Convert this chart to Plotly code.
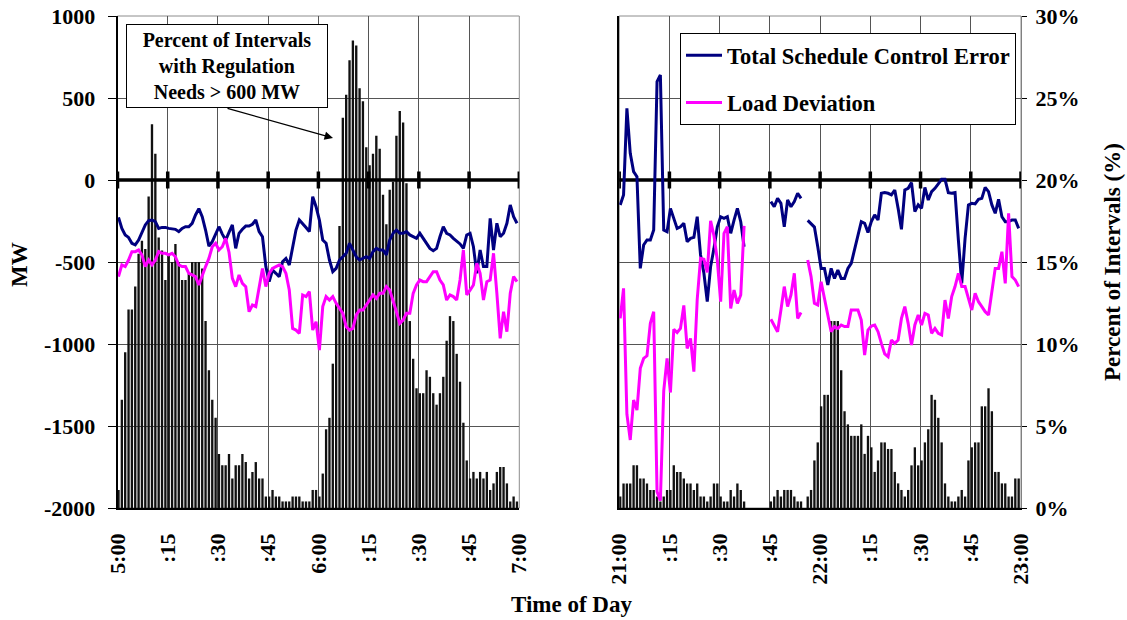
import numpy as np
import plotly.graph_objects as go

# ---- data: one value per minute, 5:00-7:00 and 21:00-23:00 ----
# percent of intervals with regulation needs > 600 MW
morning_pct = [1.1, 6.6, 9.5, 12.1, 12.1, 13.5, 15.5, 16.3, 15.8, 19.0,
               23.4, 21.6, 16.5, 15.7, 13.9, 15.4, 15.0, 16.1, 15.0, 13.9,
               13.9, 14.3, 15.0, 15.0, 15.0, 14.6, 11.4, 8.4, 6.6, 5.5,
               3.3, 2.6, 2.6, 3.3, 1.8, 2.6, 2.6, 3.3, 2.8, 1.8,
               2.2, 2.8, 1.8, 1.8, 0.7, 0.7, 1.1, 0.7, 0.7, 0.4,
               0.4, 0.4, 0.7, 0.7, 0.7, 0.4, 0.4, 0.4, 1.1, 1.1,
               0.7, 2.1, 4.8, 5.5, 8.8, 12.5, 17.2, 23.8, 25.2, 27.3,
               28.5, 28.2, 25.6, 24.8, 22.0, 20.9, 21.6, 22.7, 21.9, 19.1,
               17.3, 19.4, 19.9, 22.7, 24.2, 23.5, 19.8, 11.4, 9.1, 7.3,
               7.0, 7.0, 8.4, 8.0, 7.0, 6.3, 7.0, 8.0, 10.2, 11.7,
               11.4, 9.4, 7.7, 5.2, 2.9, 1.8, 2.2, 1.8, 2.2, 1.8,
               2.2, 1.1, 1.5, 2.2, 2.5, 2.5, 1.5, 0.4, 0.7, 0.4]

# total schedule control error, MW
morning_sce = [-228, -295, -335, -350, -386, -396, -366, -315, -274, -248,
               -244, -254, -295, -289, -289, -295, -299, -301, -315, -295,
               -285, -285, -264, -213, -175, -224, -305, -403, -376, -325,
               -285, -330, -366, -320, -274, -417, -325, -300, -281, -281,
               -270, -244, -315, -346, -528, -620, -549, -569, -590, -498,
               -478, -518, -407, -305, -244, -264, -290, -315, -102, -163,
               -244, -366, -386, -488, -559, -539, -488, -468, -447, -386,
               -427, -468, -488, -478, -468, -478, -437, -417, -427, -427,
               -457, -366, -325, -305, -325, -325, -315, -335, -346, -356,
               -325, -356, -386, -417, -431, -417, -346, -285, -325, -335,
               -356, -376, -390, -417, -335, -325, -407, -569, -427, -528,
               -528, -234, -427, -264, -346, -325, -264, -152, -224, -264]

# load deviation, MW
morning_ld = [-589, -518, -528, -488, -437, -437, -427, -457, -528, -488,
              -518, -488, -437, -447, -447, -457, -447, -468, -518, -528,
              -528, -569, -579, -589, -640, -579, -528, -478, -407, -386,
              -427, -407, -356, -440, -600, -650, -579, -630, -650, -803,
              -762, -772, -650, -539, -650, -569, -539, -528, -518, -528,
              -569, -671, -905, -915, -935, -701, -711, -681, -915, -864,
              -1037, -772, -711, -732, -711, -752, -783, -813, -894, -915,
              -905, -823, -793, -793, -762, -732, -701, -722, -691, -691,
              -650, -671, -732, -803, -874, -854, -813, -813, -691, -640,
              -610, -620, -620, -589, -559, -559, -610, -640, -732, -701,
              -711, -732, -610, -427, -701, -671, -640, -508, -569, -732,
              -620, -610, -447, -691, -966, -803, -925, -691, -589, -620]

evening_pct = [0.7, 1.5, 1.5, 1.5, 2.6, 2.6, 1.8, 1.8, 1.5, 1.1,
               1.1, 0.7, 0.4, 0.7, 1.1, 1.1, 2.6, 2.2, 2.2, 1.8,
               1.5, 1.5, 1.1, 1.5, 0.7, 0.7, 0.4, 0.7, 1.5, 1.5,
               0.7, 0.4, 0.4, 1.1, 0.7, 1.5, 1.1, 0.4, None, None,
               None, None, None, None, None, 0.4, 0.7, 1.1, 0.7, 1.1,
               1.1, 1.1, 0.7, 0.4, 0.4, None, 0.7, 1.1, 2.9, 4.0,
               6.2, 6.9, 6.9, 11.4, 11.4, 11.4, 8.4, 5.9, 5.1, 4.4,
               4.4, 4.4, 5.1, 3.3, 4.4, 3.7, 2.2, 2.9, 4.0, 4.0,
               3.6, 3.6, 2.2, 1.5, 1.1, 0.7, 1.1, 2.6, 3.7, 2.6,
               2.9, 4.0, 4.8, 6.9, 6.6, 5.5, 4.0, 1.5, 0.7, 0.4,
               0.4, 0.7, 1.1, 0.7, 2.9, 3.7, 4.0, 4.0, 6.2, 6.2,
               7.3, 5.9, 2.2, 2.2, 1.5, 1.5, 0.7, 0.7, 1.8, 1.8]

evening_sce = [-152, -91, 437, 163, 51, 20, -539, -396, -366, -366,
               -305, 600, 640, -305, -315, -173, -234, -295, -285, -264,
               -376, -356, -350, -224, -457, -569, -742, -528, -417, -285,
               -224, -234, -224, -325, -244, -173, -254, -407, None, None,
               None, None, None, None, None, -132, -163, -112, -142, -285,
               -122, -163, -132, -81, -112, None, -246, -266, -287, -407,
               -539, -539, -640, -539, -600, -549, -600, -600, -539, -508,
               -427, -335, -254, -264, -320, -254, -213, -244, -81, -77,
               -81, -91, -61, -173, -301, -61, -51, -16, -193, -152,
               -173, -45, -122, -71, -51, -24, 4, 4, -77, -81,
               -77, -366, -630, -356, -152, -142, -146, -118, -112, -45,
               -71, -152, -203, -118, -224, -254, -254, -244, -244, -295]

evening_ld = [-844, -661, -1428, -1585, -1342, -1403, -1148, -1088, -1072, -874,
              -803, -1900, -1956, -1286, -1088, -1296, -910, -930, -905, -765,
              -1027, -966, -1169, -727, -478, -483, -564, -249, -340, -488,
              -742, -325, -285, -783, -671, -752, -701, -280, None, None,
              None, None, None, None, None, -849, -884, -925, -793, -650,
              -772, -701, -569, -844, -808, None, -488, -589, -752, -762,
              -620, -722, -833, -925, -894, -905, -884, -894, -894, -793,
              -793, -793, -854, -1067, -915, -890, -884, -925, -996, -1060,
              -1077, -976, -996, -976, -844, -772, -874, -1006, -884, -823,
              -884, -813, -823, -935, -905, -935, -945, -732, -844, -711,
              -650, -569, -650, -650, -722, -793, -691, -742, -772, -803,
              -823, -671, -539, -539, -437, -630, -203, -589, -610, -650]

morning_ticks = ["5:00", ":15", ":30", ":45", "6:00", ":15", ":30", ":45", "7:00"]
evening_ticks = ["21:00", ":15", ":30", ":45", "22:00", ":15", ":30", ":45", "23:00"]
mw_ticks = [1000, 500, 0, -500, -1000, -1500, -2000]
pct_ticks = [0, 5, 10, 15, 20, 25, 30]

# ---- styling ----
FONT = "Liberation Serif, Times New Roman, serif"
NAVY = "#000080"
MAGENTA = "#FF00FF"
BAR = "#111111"
GRID = "#555555"

minute = np.arange(120) + 0.3          # centre of each one-minute bin
tick_pos = list(range(0, 121, 15))

W, H = 1127, 620
y_dom = [1 - 508 / H, 1 - 16 / H]
left_dom = [117.5 / W, 519.3 / W]
right_dom = [619.2 / W, 1021.0 / W]

fig = go.Figure()

panels = [
    dict(x="x", ypct="y", ymw="y3", pct=morning_pct, sce=morning_sce, ld=morning_ld, legend=True),
    dict(x="x2", ypct="y2", ymw="y4", pct=evening_pct, sce=evening_sce, ld=evening_ld, legend=False),
]

for p in panels:
    fig.add_trace(go.Bar(x=minute, y=p["pct"], xaxis=p["x"], yaxis=p["ypct"],
                         marker=dict(color=BAR, line=dict(width=0)),
                         showlegend=False, hoverinfo="skip"))

for p in panels:
    # horizontal axis drawn through MW = 0, with its tick marks
    fig.add_trace(go.Scatter(x=[0, 120], y=[0, 0], xaxis=p["x"], yaxis=p["ymw"],
                             mode="lines", line=dict(color="black", width=3.5),
                             showlegend=False, hoverinfo="skip"))
    fig.add_trace(go.Scatter(x=tick_pos, y=[0] * len(tick_pos), xaxis=p["x"], yaxis=p["ymw"],
                             mode="markers",
                             marker=dict(symbol="line-ns", size=12,
                                         line=dict(color="black", width=3.5)),
                             showlegend=False, hoverinfo="skip"))
    fig.add_trace(go.Scatter(x=minute, y=p["sce"], xaxis=p["x"], yaxis=p["ymw"],
                             mode="lines", line=dict(color=NAVY, width=3),
                             name="Total Schedule Control Error", legendgroup="sce",
                             showlegend=p["legend"], connectgaps=False))
    fig.add_trace(go.Scatter(x=minute, y=p["ld"], xaxis=p["x"], yaxis=p["ymw"],
                             mode="lines", line=dict(color=MAGENTA, width=3),
                             name="Load Deviation", legendgroup="ld",
                             showlegend=p["legend"], connectgaps=False))

tickfont = dict(family=FONT, size=22, color="black", weight="bold")

xcommon = dict(range=[0, 120], tickvals=tick_pos, tickangle=-90, tickfont=tickfont,
               showgrid=True, gridcolor=GRID, gridwidth=1, zeroline=False,
               showline=True, linecolor="black", linewidth=1.5, ticks="",
               ticklabelstandoff=15, automargin=False, fixedrange=True)

fig.update_layout(
    width=W, height=H,
    margin=dict(l=0, r=0, t=0, b=0),
    paper_bgcolor="white", plot_bgcolor="white",
    bargap=0.3,
    showlegend=True,
    legend=dict(x=680 / W, y=1 - 33 / H, xanchor="left", yanchor="top",
                bgcolor="white", bordercolor="black", borderwidth=1,
                font=dict(family=FONT, size=22.5, color="black", weight="bold"),
                tracegroupgap=15, itemwidth=36),
    xaxis=dict(domain=left_dom, anchor="y", ticktext=morning_ticks, **xcommon),
    xaxis2=dict(domain=right_dom, anchor="y2", ticktext=evening_ticks, **xcommon),
    # percent axes carry the bars
    yaxis=dict(domain=y_dom, anchor="x", range=[0, 30], showgrid=False,
               showticklabels=False, zeroline=False, showline=False, ticks="",
               fixedrange=True),
    yaxis2=dict(domain=y_dom, anchor="x2", side="right", range=[0, 30],
                tickvals=pct_ticks, ticktext=[f"{v}%" for v in pct_ticks],
                tickfont=tickfont, showgrid=False, zeroline=False,
                showline=True, linecolor="#808080", linewidth=1,
                ticks="outside", ticklen=5, tickcolor="black",
                ticklabelstandoff=4, automargin=False, fixedrange=True),
    # MW axes carry the lines
    yaxis3=dict(overlaying="y", anchor="x", side="left", range=[-2000, 1000],
                tickvals=mw_ticks, ticktext=[str(v) for v in mw_ticks],
                tickfont=tickfont, showgrid=True, gridcolor=GRID, gridwidth=1,
                zeroline=False, showline=True, linecolor="black", linewidth=1.5,
                ticks="outside", ticklen=8, tickcolor="black",
                ticklabelstandoff=8, automargin=False, fixedrange=True),
    yaxis4=dict(overlaying="y2", anchor="x2", side="left", range=[-2000, 1000],
                tickvals=mw_ticks, showticklabels=False,
                showgrid=True, gridcolor=GRID, gridwidth=1, zeroline=False,
                showline=True, linecolor="black", linewidth=1.5, ticks="",
                fixedrange=True),
)

# light frame along the top of each panel
for xr, yr in (("x domain", "y domain"), ("x2 domain", "y2 domain")):
    fig.add_shape(type="rect", xref=xr, yref=yr, x0=0, x1=1, y0=0, y1=1,
                  line=dict(color="#8c8c8c", width=1), layer="below")

titlefont = dict(family=FONT, size=23, color="black", weight="bold")
fig.add_annotation(text="MW", xref="paper", yref="paper", x=19 / W, y=1 - 265 / H,
                   xanchor="center", yanchor="middle",
                   textangle=-90, showarrow=False, font=titlefont)
fig.add_annotation(text="Percent of Intervals (%)", xref="paper", yref="paper",
                   x=1112 / W, y=1 - 262 / H, xanchor="center", yanchor="middle",
                   textangle=-90, showarrow=False, font=titlefont)
fig.add_annotation(text="Time of Day", xref="paper", yref="paper",
                   x=571 / W, y=1 - 604 / H, xanchor="center", yanchor="middle",
                   showarrow=False, font=titlefont)

# callout box and pointer to the morning bars
fig.add_annotation(text="Percent of Intervals<br>with Regulation<br>Needs > 600 MW",
                   xref="paper", yref="paper", x=227 / W, y=1 - 66 / H,
                   xanchor="center", yanchor="middle",
                   showarrow=False, align="center",
                   font=dict(family=FONT, size=20, color="black", weight="bold"),
                   bgcolor="white", bordercolor="black", borderwidth=1,
                   borderpad=4, width=192)
fig.add_annotation(text="", xref="paper", yref="paper", x=333 / W, y=1 - 138 / H,
                   ax=-107, ay=-30, axref="pixel", ayref="pixel",
                   showarrow=True, arrowhead=2, arrowsize=1.3, arrowwidth=1.3,
                   arrowcolor="black")

fig.write_html("out.html")
